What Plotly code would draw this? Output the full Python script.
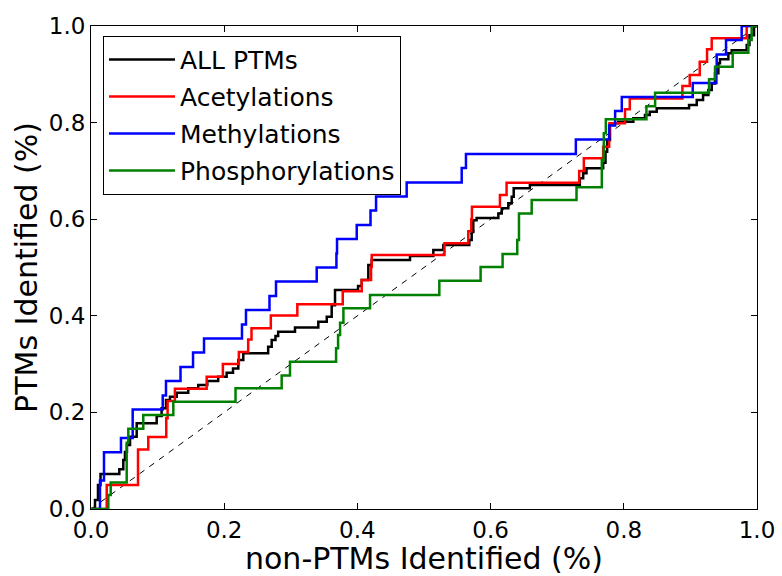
import plotly.graph_objects as go

# Step points: (x at which curve rises, y after rise); drawn with 'hv' shape
all_x = [0.0, 0.006, 0.0105, 0.0143, 0.0425, 0.0485, 0.051, 0.054, 0.0586, 0.0686, 0.0986, 0.106, 0.1126,
         0.1186, 0.1287, 0.146, 0.161, 0.1746, 0.191, 0.2037, 0.2132, 0.2212, 0.2287, 0.266, 0.2713, 0.277,
         0.281, 0.3063, 0.3413, 0.354, 0.3614, 0.3664, 0.401, 0.4065, 0.4164, 0.4215, 0.479, 0.514, 0.529,
         0.568, 0.5716, 0.574, 0.579, 0.6116, 0.6167, 0.6266, 0.6317, 0.6347, 0.659, 0.734, 0.739, 0.744,
         0.769, 0.7725, 0.775, 0.7793, 0.7917, 0.8143, 0.8318, 0.839, 0.8494, 0.898, 0.9095, 0.919, 0.927,
         0.932, 0.937, 0.942, 0.9444, 0.957, 0.962, 0.9845, 0.9887, 0.9955, 1.0]
all_y = [0.0, 0.0186, 0.0497, 0.0725, 0.0822, 0.1014, 0.118, 0.1325, 0.1497, 0.1774, 0.1925, 0.2085, 0.2257,
         0.2325, 0.2408, 0.25, 0.2567, 0.265, 0.274, 0.282, 0.291, 0.3085, 0.3224, 0.336, 0.35, 0.358,
         0.367, 0.376, 0.3878, 0.398, 0.422, 0.4534, 0.4617, 0.474, 0.505, 0.5155, 0.5238, 0.536, 0.5466,
         0.557, 0.5735, 0.598, 0.6025, 0.612, 0.6226, 0.633, 0.6466, 0.664, 0.6708, 0.6847, 0.695, 0.7054,
         0.717, 0.7398, 0.764, 0.7985, 0.802, 0.809, 0.8157, 0.8226, 0.8296, 0.8364, 0.8468, 0.857, 0.8675,
         0.881, 0.902, 0.9228, 0.931, 0.9435, 0.950, 0.9607, 0.981, 1.0, 1.0]

acet_x = [0.0, 0.0236, 0.0706, 0.086, 0.113, 0.115, 0.126, 0.1737, 0.198, 0.222, 0.236, 0.241, 0.270, 0.3098,
          0.378, 0.4065, 0.4205, 0.4215, 0.5308, 0.5665, 0.571, 0.572, 0.614, 0.624, 0.733, 0.740, 0.769,
          0.778, 0.7785, 0.8018, 0.809, 0.888, 0.899, 0.914, 0.925, 0.932, 0.9845, 1.0]
acet_y = [0.0, 0.0497, 0.1232, 0.149, 0.188, 0.2236, 0.249, 0.274, 0.300, 0.325, 0.351, 0.374, 0.4006, 0.424,
          0.451, 0.474, 0.501, 0.526, 0.550, 0.575, 0.600, 0.626, 0.650, 0.6755, 0.700, 0.726, 0.750,
          0.774, 0.7986, 0.8275, 0.850, 0.876, 0.8986, 0.926, 0.9518, 0.9745, 1.0, 1.0]

meth_x = [0.0, 0.0135, 0.0195, 0.045, 0.0626, 0.1077, 0.1126, 0.1344, 0.1532, 0.1697, 0.2267, 0.2327, 0.268,
          0.2778, 0.3389, 0.3685, 0.3694, 0.399, 0.4197, 0.428, 0.474, 0.5566, 0.563, 0.728, 0.778, 0.787,
          0.797, 0.9035, 0.939, 0.9395, 0.9535, 0.977, 1.0]
meth_y = [0.0, 0.0588, 0.1176, 0.147, 0.206, 0.235, 0.265, 0.294, 0.324, 0.353, 0.382, 0.412, 0.441,
          0.471, 0.500, 0.529, 0.559, 0.588, 0.618, 0.647, 0.676, 0.706, 0.735, 0.765, 0.794, 0.824,
          0.853, 0.882, 0.912, 0.941, 0.971, 1.0, 1.0]

phos_x = [0.0, 0.026, 0.0296, 0.0536, 0.056, 0.0785, 0.1236, 0.217, 0.2863, 0.2988, 0.368, 0.371, 0.374,
          0.379, 0.419, 0.523, 0.585, 0.618, 0.64, 0.6426, 0.6617, 0.729, 0.767, 0.770, 0.773, 0.834,
          0.847, 0.928, 0.937, 0.9635, 0.987, 0.992, 1.0]
phos_y = [0.0, 0.029, 0.0549, 0.137, 0.1664, 0.1946, 0.222, 0.25, 0.2764, 0.305, 0.3327, 0.360, 0.3857,
          0.4155, 0.443, 0.4727, 0.501, 0.528, 0.557, 0.612, 0.6398, 0.666, 0.7226, 0.778, 0.8068, 0.834,
          0.862, 0.8897, 0.9157, 0.9447, 0.971, 1.0, 1.0]

diag = [0.0, 1.0]

series = [
    ("ALL PTMs", all_x, all_y, "black"),
    ("Acetylations", acet_x, acet_y, "red"),
    ("Methylations", meth_x, meth_y, "blue"),
    ("Phosphorylations", phos_x, phos_y, "green"),
]

FONT = "DejaVu Sans"
fig = go.Figure()
fig.add_trace(go.Scatter(x=diag, y=diag, mode="lines", showlegend=False,
                         line=dict(color="black", width=1, dash="6px,6px"), hoverinfo="skip"))
for name, xs, ys, col in series:
    fig.add_trace(go.Scatter(x=xs, y=ys, mode="lines", name=name, legendgroup=name,
                             line=dict(color=col, width=2.5, shape="hv")))

axis_common = dict(range=[0, 1], showline=True, linecolor="black", linewidth=1, mirror="ticks",
                   ticks="inside", ticklen=6, tickcolor="black", tickwidth=1, showgrid=False,
                   zeroline=False, tickvals=[0, 0.2, 0.4, 0.6, 0.8, 1.0],
                   ticktext=["0.0", "0.2", "0.4", "0.6", "0.8", "1.0"],
                   tickfont=dict(family=FONT, size=23, color="black"))
fig.update_xaxes(**axis_common, automargin=False,
                 title=dict(text="non-PTMs Identified (%)",
                            font=dict(family=FONT, size=30, color="black")))
fig.update_yaxes(**axis_common, automargin=True,
                 title=dict(text="PTMs Identified (%)", standoff=2,
                            font=dict(family=FONT, size=30, color="black")))

fig.update_layout(
    width=782, height=576,
    margin=dict(l=91, r=25, t=26, b=67),
    plot_bgcolor="white", paper_bgcolor="white",
    font=dict(family=FONT, color="black"),
    legend=dict(x=0.018, y=0.98, xanchor="left", yanchor="top",
                bordercolor="black", borderwidth=1, bgcolor="white",
                font=dict(family=FONT, size=25, color="black"),
                tracegroupgap=1.5, itemwidth=66),
)
fig.write_html("out.html")
